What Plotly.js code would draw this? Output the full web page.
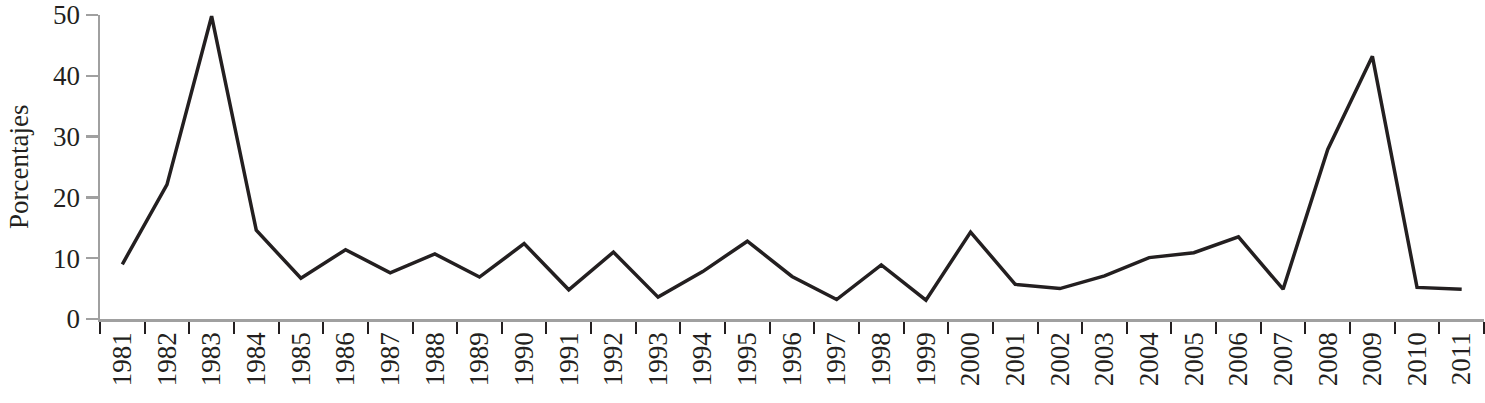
<!DOCTYPE html>
<html>
<head>
<meta charset="utf-8">
<script src="https://cdn.plot.ly/plotly-3.0.1.min.js"></script>
<style>html,body{margin:0;padding:0;background:#fff;}#chart{width:1485px;height:403px;}</style>
</head>
<body>
<div id="chart"></div>
<script>
const years = ["1981","1982","1983","1984","1985","1986","1987","1988","1989","1990","1991","1992","1993","1994","1995","1996","1997","1998","1999","2000","2001","2002","2003","2004","2005","2006","2007","2008","2009","2010","2011"];
const porcentajes = [9.0,22.1,49.8,14.6,6.7,11.4,7.6,10.7,6.9,12.4,4.8,11.0,3.6,7.8,12.8,7.0,3.2,8.9,3.1,14.3,5.7,5.0,7.1,10.1,10.9,13.5,4.9,27.9,43.2,5.2,4.9];
const yTicks = [0,10,20,30,40,50];
const yTitle = "Porcentajes";

const fontFam = "Liberation Serif, DejaVu Serif, serif";
Plotly.newPlot("chart", [{
  type: "scatter",
  mode: "lines",
  x: years,
  y: porcentajes,
  line: {color: "#231f20", width: 3.5},
  cliponaxis: false,
  hoverinfo: "skip"
}], {
  width: 1485, height: 403,
  margin: {l: 100, r: 1, t: 15, b: 84},
  paper_bgcolor: "#fff", plot_bgcolor: "#fff",
  showlegend: false,
  font: {family: fontFam, color: "#231f20", size: 27},
  xaxis: {
    type: "category",
    range: [-0.5, 30.5],
    tickson: "boundaries",
    ticks: "outside", ticklen: 12, tickwidth: 2, tickcolor: "#231f20",
    showline: true, linecolor: "#a0a0a0", linewidth: 2.5,
    showgrid: false, zeroline: false,
    tickangle: -90,
    ticklabeloverflow: "allow",
    tickfont: {family: fontFam, size: 27, color: "#231f20"},
    automargin: false
  },
  yaxis: {
    range: [0, 50],
    tickvals: yTicks,
    ticks: "outside", ticklen: 12, tickwidth: 2.5, tickcolor: "#a0a0a0",
    showline: true, linecolor: "#a0a0a0", linewidth: 2.5,
    showgrid: false, zeroline: false,
    ticklabeloverflow: "allow",
    tickfont: {family: fontFam, size: 27, color: "#231f20"},
    automargin: false
  },
  annotations: [{
    text: yTitle,
    xref: "paper", yref: "paper",
    x: 0, y: 0.5,
    xanchor: "right", yanchor: "middle",
    xshift: -64,
    textangle: -90,
    showarrow: false,
    font: {family: fontFam, size: 27, color: "#231f20"}
  }]
}, {staticPlot: true});
</script>
</body>
</html>
